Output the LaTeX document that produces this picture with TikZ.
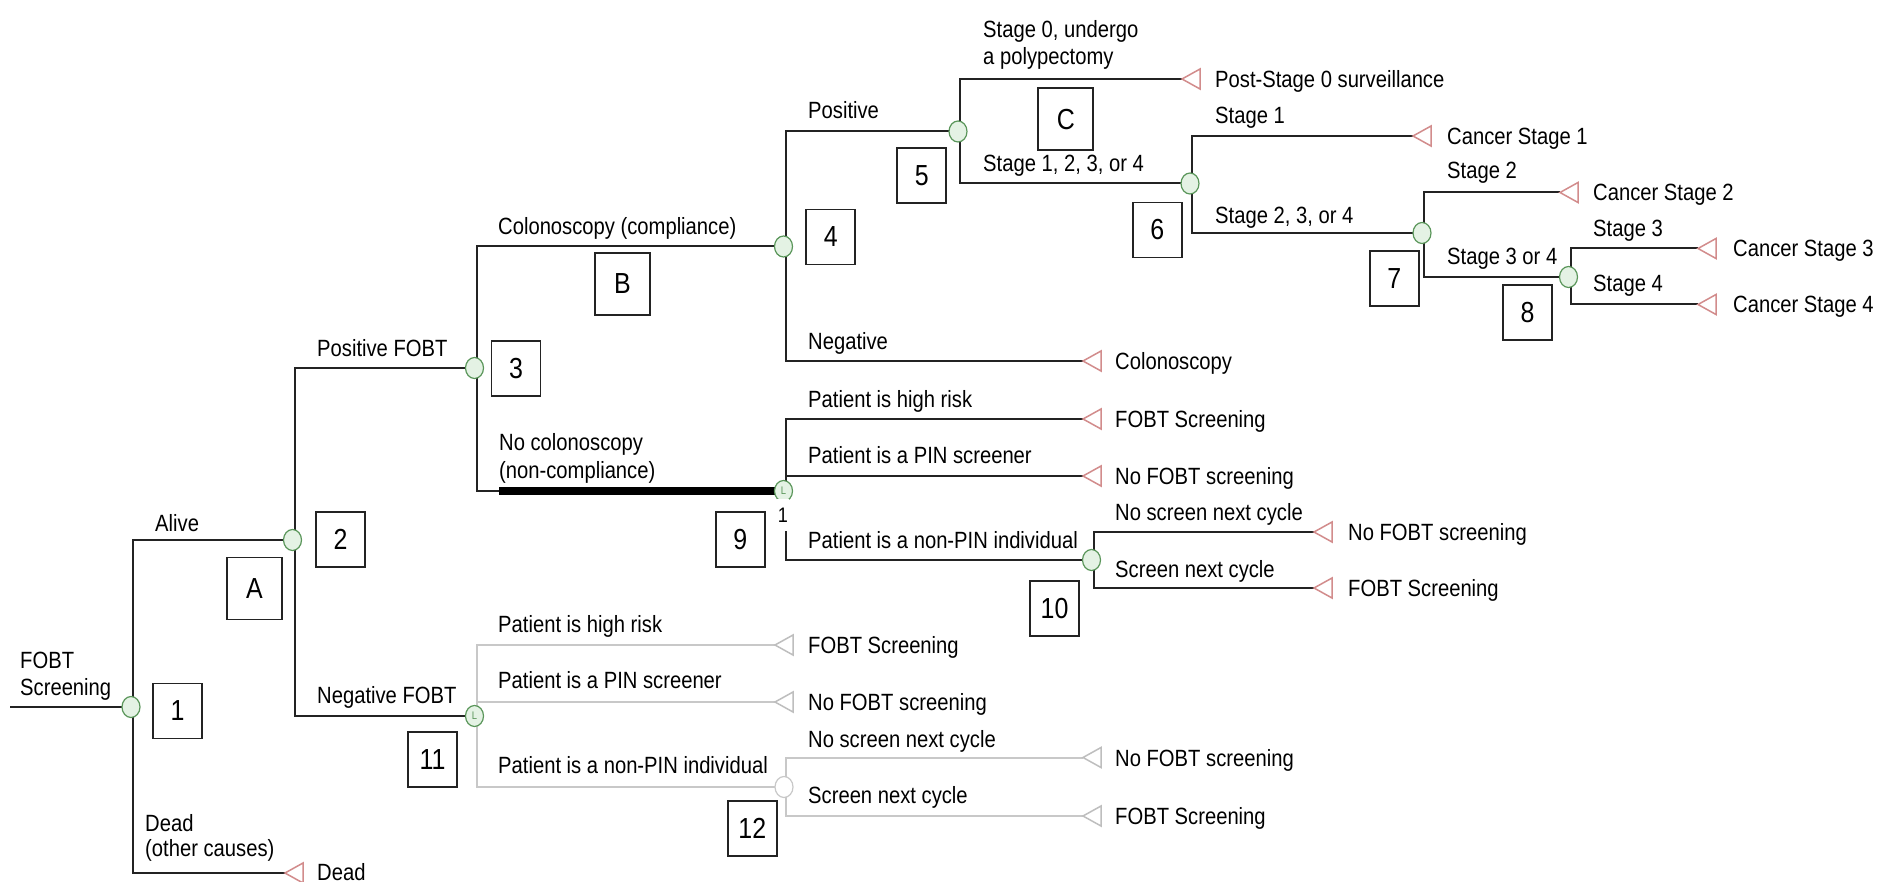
\documentclass[tikz,border=0pt]{standalone}
\usepackage{fontspec}
\setmainfont{Liberation Sans}[FakeStretch=0.86]
\usetikzlibrary{shapes.geometric,backgrounds}
\definecolor{linec}{RGB}{35,35,35}
\definecolor{greyc}{RGB}{200,200,200}
\definecolor{greenc}{RGB}{90,150,90}
\definecolor{greenf}{RGB}{228,242,228}
\definecolor{pinkc}{RGB}{210,140,140}
\definecolor{gtri}{RGB}{190,190,190}
\begin{document}
\begin{tikzpicture}[x=1pt,y=-1pt,
  font=\fontsize{23.5}{27}\selectfont,
  br/.style={draw=linec,line width=2},
  gbr/.style={draw=greyc,line width=2},
  thickbr/.style={draw=black,line width=8},
  chance/.style={ellipse,minimum width=18,minimum height=21,inner sep=0,draw=greenc,fill=greenf,line width=1.2,text=greenc,font=\fontsize{11}{11}\selectfont},
  gchance/.style={chance,draw=greyc,fill=white},
  nbox/.style={draw=linec,line width=1.8,fill=white,minimum width=49,minimum height=55,inner sep=0,font=\fontsize{29}{32}\selectfont},
  lbox/.style={nbox,minimum width=55,minimum height=62},
  lab/.style={anchor=base west,inner sep=0},
  term/.style={draw=pinkc,line width=1.5,fill=white,line join=miter},
  gterm/.style={draw=gtri,line width=1.5,fill=white,line join=miter}]
\useasboundingbox (0,0) rectangle (1879,882);
% chance nodes
\node[chance] (n1) at (131,707) {};
\node[chance] (n2) at (292.5,540) {};
\node[chance] (n3) at (474.5,368) {};
\node[chance] (n4) at (783.5,246.5) {};
\node[chance] (n5) at (958,131.5) {};
\node[chance] (n6) at (1190,183.5) {};
\node[chance] (n7) at (1422,233) {};
\node[chance] (n8) at (1568.5,277) {};
\node[chance] (n9) at (783.5,491) {L};
\node[chance] (n10) at (1091.5,560) {};
\node[chance] (n11) at (474.5,716) {L};
\node[gchance] (n12) at (784,787) {};
% terminal tips and free ends
\coordinate (root) at (10,707);
\coordinate (thick) at (499,491);
\coordinate (tPS0) at (1182,79);
\coordinate (tCS1) at (1413,136);
\coordinate (tCS2) at (1560,192.5);
\coordinate (tCS3) at (1698,248.5);
\coordinate (tCS4) at (1698,304.5);
\coordinate (tCol) at (1083,361);
\coordinate (tF9a) at (1083,419);
\coordinate (tN9b) at (1083,476);
\coordinate (tN10a) at (1314,532);
\coordinate (tF10b) at (1314,588);
\coordinate (tF11a) at (775,645);
\coordinate (tN11b) at (775,702);
\coordinate (tN12a) at (1083,757.5);
\coordinate (tF12b) at (1083,816);
\coordinate (tDead) at (285,873);
\begin{scope}[on background layer]
\fill[white] (0,0) rectangle (1879,882);
\draw[br] (root) -- (n1.center);
\draw[br] ([xshift=2]n1.center) |- (n2.center);
\draw[br] ([xshift=2]n1.center) |- (tDead);
\draw[br] ([xshift=2]n2.center) |- (n3.center);
\draw[br] ([xshift=2]n2.center) |- (n11.center);
\draw[br] ([xshift=2]n3.center) |- (n4.center);
\draw[br] ([xshift=2]n3.center) |- (n9.center);
\draw[thickbr] (thick) -- (n9.center);
\draw[br] ([xshift=2]n4.center) |- (n5.center);
\draw[br] ([xshift=2]n4.center) |- (tCol);
\draw[br] ([xshift=2]n5.center) |- (tPS0);
\draw[br] ([xshift=2]n5.center) |- (n6.center);
\draw[br] ([xshift=2]n6.center) |- (tCS1);
\draw[br] ([xshift=2]n6.center) |- (n7.center);
\draw[br] ([xshift=2]n7.center) |- (tCS2);
\draw[br] ([xshift=2]n7.center) |- (n8.center);
\draw[br] ([xshift=2]n8.center) |- (tCS3);
\draw[br] ([xshift=2]n8.center) |- (tCS4);
\draw[br] ([xshift=2]n9.center) |- (tF9a);
\draw[br] ([xshift=2]n9.center) |- (tN9b);
\draw[br] ([xshift=2]n9.center) |- (n10.center);
\draw[br] ([xshift=2]n10.center) |- (tN10a);
\draw[br] ([xshift=2]n10.center) |- (tF10b);
\draw[gbr] ([xshift=2]n11.center) |- (tF11a);
\draw[gbr] ([xshift=2]n11.center) |- (tN11b);
\draw[gbr] ([xshift=2]n11.center) |- (n12.center);
\draw[gbr] ([xshift=2]n12.center) |- (tN12a);
\draw[gbr] ([xshift=2]n12.center) |- (tF12b);
\end{scope}
% terminal triangles
\foreach \t in {tPS0,tCS1,tCS2,tCS3,tCS4,tCol,tF9a,tN9b,tN10a,tF10b,tDead}
  \draw[term] (\t) -- ++(18,-10) -- ++(0,20) -- cycle;
\foreach \t in {tF11a,tN11b,tN12a,tF12b}
  \draw[gterm] (\t) -- ++(18,-10) -- ++(0,20) -- cycle;
% terminal labels
\node[lab] (lPS0) at (1215,87.5) {Post-Stage 0 surveillance};
\node[lab] (lCS1) at (1447,144.5) {Cancer Stage 1};
\node[lab] (lCS2) at (1593,201) {Cancer Stage 2};
\node[lab] (lCS3) at (1733,257) {Cancer Stage 3};
\node[lab] (lCS4) at (1733,313) {Cancer Stage 4};
\node[lab] (lCol) at (1115,369.5) {Colonoscopy};
\node[lab] (lF9a) at (1115,427.5) {FOBT Screening};
\node[lab] (lN9b) at (1115,484.5) {No FOBT screening};
\node[lab] (lN10a) at (1348,540.5) {No FOBT screening};
\node[lab] (lF10b) at (1348,596.5) {FOBT Screening};
\node[lab] (lF11a) at (808,653.5) {FOBT Screening};
\node[lab] (lN11b) at (808,710.5) {No FOBT screening};
\node[lab] (lN12a) at (1115,766) {No FOBT screening};
\node[lab] (lF12b) at (1115,824.5) {FOBT Screening};
\node[lab] (lDead) at (317,880.5) {Dead};
% branch labels
\node[lab] (xFOBT1) at (20,668) {FOBT};
\node[lab] (xFOBT2) at (20,695) {Screening};
\node[lab] (xAlive) at (155,531.5) {Alive};
\node[lab] (xDead1) at (145,831) {Dead};
\node[lab] (xDead2) at (145,856.5) {(other causes)};
\node[lab] (xPos) at (317,356.5) {Positive FOBT};
\node[lab] (xNeg) at (317,703) {Negative FOBT};
\node[lab] (xCol) at (498,235) {Colonoscopy (compliance)};
\node[lab] (xNoc1) at (499,450) {No colonoscopy};
\node[lab] (xNoc2) at (499,478) {(non-compliance)};
\node[lab] (xPositive) at (808,118.5) {Positive};
\node[lab] (xNegative) at (808,350) {Negative};
\node[lab] (xS0a) at (983,37.5) {Stage 0, undergo};
\node[lab] (xS0b) at (983,65) {a polypectomy};
\node[lab] (xS1234) at (983,172) {Stage 1, 2, 3, or 4};
\node[lab] (xS1) at (1215,123.5) {Stage 1};
\node[lab] (xS234) at (1215,223.5) {Stage 2, 3, or 4};
\node[lab] (xS2) at (1447,178.5) {Stage 2};
\node[lab] (xS34) at (1447,265) {Stage 3 or 4};
\node[lab] (xS3) at (1593,237) {Stage 3};
\node[lab] (xS4) at (1593,292) {Stage 4};
\node[lab] (xHR) at (808,407) {Patient is high risk};
\node[lab] (xPIN) at (808,463) {Patient is a PIN screener};
\node[lab] (xNPIN) at (808,548.5) {Patient is a non-PIN individual};
\node[lab] (xNS) at (1115,520) {No screen next cycle};
\node[lab] (xSN) at (1115,577) {Screen next cycle};
\node[lab] (yHR) at (498,632) {Patient is high risk};
\node[lab] (yPIN) at (498,688.5) {Patient is a PIN screener};
\node[lab] (yNPIN) at (498,773.5) {Patient is a non-PIN individual};
\node[lab] (yNS) at (808,747) {No screen next cycle};
\node[lab] (ySN) at (808,803.5) {Screen next cycle};
\node[fill=white,inner sep=1,minimum height=32,font=\fontsize{21}{21}\selectfont] (one) at (783,515) {1};
% boxes
\node[lbox] (bA) at (254.5,588.5) {A};
\node[lbox] (bB) at (622.5,284) {B};
\node[lbox] (bC) at (1065.8,119.2) {C};
\node[nbox] (b1) at (177.5,711) {1};
\node[nbox] (b2) at (340.5,539.5) {2};
\node[nbox] (b3) at (516,368.3) {3};
\node[nbox] (b4) at (830.7,237) {4};
\node[nbox] (b5) at (921.8,175.3) {5};
\node[nbox] (b6) at (1157.4,230) {6};
\node[nbox] (b7) at (1394.2,278.3) {7};
\node[nbox] (b8) at (1527.5,312.8) {8};
\node[nbox] (b9) at (740.2,539.2) {9};
\node[nbox] (b10) at (1054.5,608.2) {10};
\node[nbox] (b11) at (432.5,759.5) {11};
\node[nbox] (b12) at (752.3,828.5) {12};
\end{tikzpicture}
\end{document}
